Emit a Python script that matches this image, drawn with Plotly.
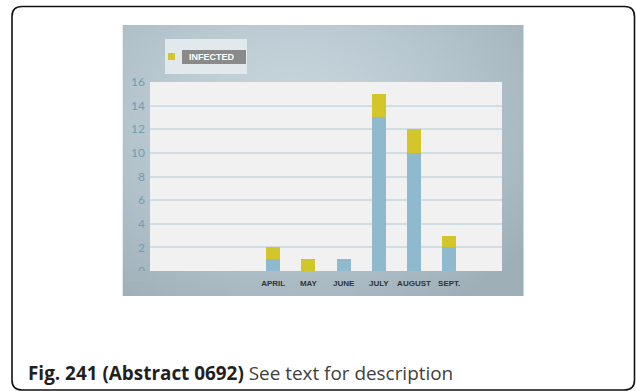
import base64, struct, zlib
import plotly.graph_objects as go

# ---------------- data ----------------
months = ["APRIL", "MAY", "JUNE", "JULY", "AUGUST", "SEPT."]
not_infected = [1, 0, 1, 13, 10, 2]
infected = [1, 1, 0, 2, 2, 1]
y_ticks = [0, 2, 4, 6, 8, 10, 12, 14, 16]
caption_bold = "Fig. 241 (Abstract 0692)"
caption_rest = "See text for description"

# ---------------- geometry helpers ----------------
W, H = 636, 391
L, R, T, B = 150, 134, 82, 120
PW, PH = W - L - R, H - T - B


def px(x):
    return (x - L) / PW


def py(y):
    return (H - B - y) / PH


# ---------------- gradient background image ----------------
C_IN = (199, 214, 221)
C_OUT = (158, 175, 184)


def grad_color(u, v):
    dx = (u - 0.42) / 0.75
    dy = (v - 0.32) / 0.85
    t = min(1.0, (dx * dx + dy * dy) ** 0.5) ** 1.4
    return tuple(int(C_IN[k] + (C_OUT[k] - C_IN[k]) * t) for k in range(3))


def gradient_png(w=160, h=108):
    rows = b""
    for j in range(h):
        row = b"\x00"
        for i in range(w):
            row += bytes(grad_color(i / (w - 1), j / (h - 1)))
        rows += row

    def chunk(tag, data):
        return struct.pack(">I", len(data)) + tag + data + struct.pack(">I", zlib.crc32(tag + data) & 0xFFFFFFFF)

    png = b"\x89PNG\r\n\x1a\n"
    png += chunk(b"IHDR", struct.pack(">IIBBBBB", w, h, 8, 2, 0, 0, 0))
    png += chunk(b"IDAT", zlib.compress(rows, 9))
    png += chunk(b"IEND", b"")
    return "data:image/png;base64," + base64.b64encode(png).decode()


BLUE = "#8fb9cc"
YELLOW = "#d3c62b"

fig = go.Figure()
fig.add_trace(go.Bar(x=months, y=not_infected, name="NOT INFECTED",
                     marker=dict(color=BLUE, line=dict(width=0)), showlegend=False))
fig.add_trace(go.Bar(x=months, y=infected, name="INFECTED",
                     marker=dict(color=YELLOW, line=dict(width=0)), showlegend=False))

# panel image
x0, x1, y0, y1 = 122.7, 523.5, 25, 296
fig.add_layout_image(dict(source=gradient_png(), xref="paper", yref="paper",
                          x=px(x0), y=py(y0), sizex=px(x1) - px(x0), sizey=py(y0) - py(y1),
                          xanchor="left", yanchor="top", sizing="stretch", layer="below"))

shapes = []


def rect(xa, ya, xb, yb, color, layer="above"):
    return dict(type="rect", xref="paper", yref="paper", x0=px(xa), x1=px(xb),
                y0=py(yb), y1=py(ya), fillcolor=color, line=dict(width=0), layer=layer)


# plot area background (above the panel image)
shapes.append(dict(type="rect", xref="paper", yref="paper", x0=0, x1=1, y0=0, y1=1,
                   fillcolor="#f1f1f1", line=dict(width=0), layer="below"))

# outer rounded border
bx0, bx1, by0, by1, rr = 12, 634.5, 6.5, 390, 10
path = (f"M {px(bx0 + rr)},{py(by0)} L {px(bx1 - rr)},{py(by0)} "
        f"Q {px(bx1)},{py(by0)} {px(bx1)},{py(by0 + rr)} "
        f"L {px(bx1)},{py(by1 - rr)} Q {px(bx1)},{py(by1)} {px(bx1 - rr)},{py(by1)} "
        f"L {px(bx0 + rr)},{py(by1)} Q {px(bx0)},{py(by1)} {px(bx0)},{py(by1 - rr)} "
        f"L {px(bx0)},{py(by0 + rr)} Q {px(bx0)},{py(by0)} {px(bx0 + rr)},{py(by0)} Z")
shapes.append(dict(type="path", path=path, xref="paper", yref="paper",
                   line=dict(color="#111111", width=1.6), layer="below"))

# legend box
shapes.append(rect(165, 39, 247, 74, "#e1e9ed"))
shapes.append(rect(168, 53, 175, 60, YELLOW))
shapes.append(rect(182, 50, 246, 64, "#8a8a8a"))
# hide the lower part of the "0" tick label (clipped in the original)
cu, cv = (137.5 - x0) / (x1 - x0), (276 - y0) / (y1 - y0)
cc = grad_color(cu, cv)
shapes.append(rect(126, 270.8, 149, 282, "rgb(%d,%d,%d)" % cc))

annotations = [
    dict(text=f"<b>{fig.data[1].name}</b>", xref="paper", yref="paper", x=px(187), y=py(57.3),
         xanchor="left", yanchor="middle", showarrow=False,
         font=dict(family="Liberation Sans", size=9, color="#ffffff")),
    dict(text=f"<b>{caption_bold}</b> <span style='color:#404040'>{caption_rest}</span>",
         xref="paper", yref="paper", x=px(26), y=py(373), xanchor="left", yanchor="middle",
         showarrow=False, font=dict(family="Open Sans", size=18.9, color="#231f20")),
]

fig.update_layout(
    width=W, height=H, margin=dict(l=L, r=R, t=T, b=B, pad=0),
    paper_bgcolor="#ffffff", plot_bgcolor="#f1f1f1",
    barmode="stack", bargap=0.6,
    shapes=shapes, annotations=annotations,
    xaxis=dict(range=[-3.5, 6.5], showgrid=False, zeroline=False, showline=False,
               ticks="", tickfont=dict(family="Liberation Sans Narrow, Liberation Sans", size=8,
                                       color="#333333", weight="bold"),
               ticklabelstandoff=6),
    yaxis=dict(range=[0, 16], tickvals=y_ticks, showgrid=True, gridcolor="#d1dde5", gridwidth=1.6,
               zeroline=False, showline=False, ticks="",
               tickfont=dict(family="Lato", size=12, color="#6f9db3"), ticklabelstandoff=4),
    showlegend=False,
)

fig.write_html("out.html", config={"displayModeBar": False},
               post_script="document.body.style.margin='0';document.body.style.overflow='hidden';")
